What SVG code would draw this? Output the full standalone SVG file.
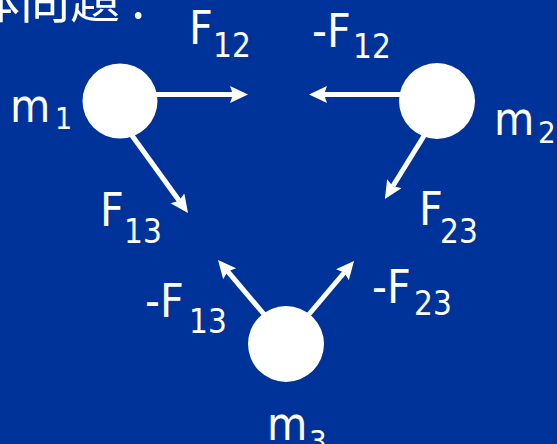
<svg xmlns="http://www.w3.org/2000/svg" width="557" height="444" viewBox="0 0 557 444">
<style>
.t{font-family:"DejaVu Sans Condensed","DejaVu Sans",sans-serif;fill:#fff;font-size:46px}
.s{font-size:33px}
.cjk{font-family:"Noto Sans CJK JP","Noto Sans CJK SC",sans-serif;fill:#fff;font-size:50px}
.ar{stroke:#fff;stroke-width:5;fill:none;marker-end:url(#ah)}
.m{fill:#fff}
</style>
<defs>
<marker id="ah" markerUnits="userSpaceOnUse" markerWidth="20" markerHeight="18" refX="3" refY="8.5" orient="auto" viewBox="0 0 20 18">
<path d="M0,0 L18,8.5 L0,17 L3,8.5 z" fill="#fff"/>
</marker>
</defs>
<rect width="557" height="444" fill="#003399"/>
<text class="cjk" x="-30" y="18">体問題 :</text>
<g id="connectors">
<line class="ar" x1="150" y1="94.5" x2="233" y2="94.5"/>
<line class="ar" x1="405" y1="94.5" x2="324" y2="94.5"/>
<line class="ar" x1="128" y1="130" x2="179.2" y2="200.8"/>
<line class="ar" x1="427" y1="131" x2="392.8" y2="186.2"/>
<line class="ar" x1="268" y1="319" x2="227.7" y2="271.4"/>
<line class="ar" x1="305" y1="319" x2="344.3" y2="272.5"/>
</g>
<g id="m1"><circle class="m" cx="120" cy="101" r="37.5"/><text class="t" x="10" y="122">m</text><text class="t s" x="55" y="129" style="font-size:30px">1</text></g>
<g id="m2"><circle class="m" cx="437" cy="101" r="38"/><text class="t" x="494" y="135">m</text><text class="t s" x="538" y="143" style="font-size:31px">2</text></g>
<g id="m3"><circle class="m" cx="286" cy="344" r="38"/><text class="t" x="267" y="440">m</text><text class="t s" x="309" y="452" style="font-size:31px">3</text></g>
<g id="F12"><text class="t" x="189" y="44">F</text><text class="t s" x="213" y="57">12</text></g>
<g id="nF12"><text class="t" x="312" y="47">-F</text><text class="t s" x="353" y="58">12</text></g>
<g id="F13"><text class="t" x="100" y="226">F</text><text class="t s" x="124" y="243">13</text></g>
<g id="F23"><text class="t" x="419" y="225">F</text><text class="t s" x="440" y="243">23</text></g>
<g id="nF13"><text class="t" x="145" y="317">-F</text><text class="t s" x="189" y="333">13</text></g>
<g id="nF23"><text class="t" x="372" y="303">-F</text><text class="t s" x="414" y="315">23</text></g>
</svg>
